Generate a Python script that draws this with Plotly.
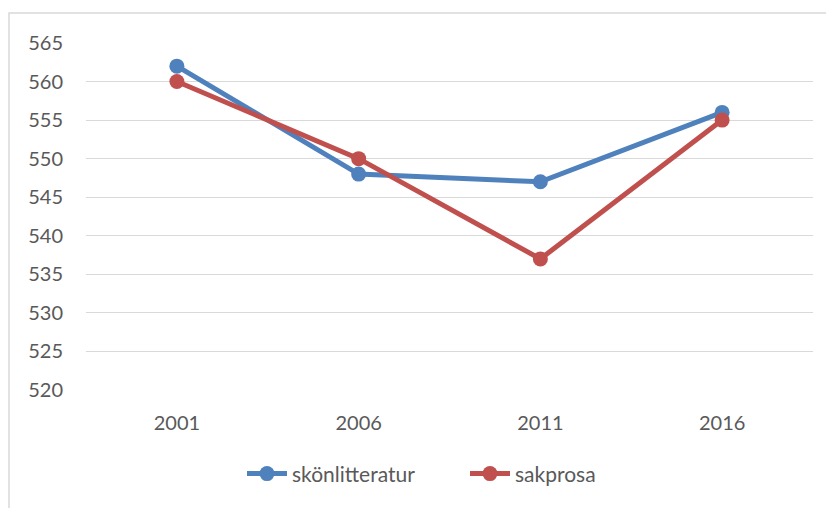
import plotly.graph_objects as go

years = ["2001", "2006", "2011", "2016"]
skonlitteratur = [562, 548, 547, 556]
sakprosa = [560, 550, 537, 555]
y_ticks = [520, 525, 530, 535, 540, 545, 550, 555, 560, 565]

FONT = "Lato"
TXT = "#595959"

fig = go.Figure()
fig.add_trace(go.Scatter(x=years, y=skonlitteratur, name="skönlitteratur",
                         mode="lines+markers",
                         line=dict(color="#4F81BD", width=5),
                         marker=dict(size=15, color="#4F81BD")))
fig.add_trace(go.Scatter(x=years, y=sakprosa, name="sakprosa",
                         mode="lines+markers",
                         line=dict(color="#C0504D", width=5),
                         marker=dict(size=15, color="#C0504D")))

# page has an 8px body margin
W, H = 826, 500
L, R, T, B = 78, 21, 35, 118
pw = W - L - R
ph = H - T - B

fig.update_layout(
    width=W, height=H,
    margin=dict(l=L, r=R, t=T, b=B),
    paper_bgcolor="white", plot_bgcolor="white",
    font=dict(family=FONT, size=20, color=TXT),
    showlegend=True,
    legend=dict(orientation="h", x=(234 - L) / pw, xanchor="left", y=-0.242, yanchor="middle",
                font=dict(size=21, color=TXT), itemwidth=40, entrywidth=168,
                bgcolor="rgba(0,0,0,0)"),
    xaxis=dict(type="category", range=[-0.5, 3.5], showgrid=False, showline=False,
               zeroline=False, ticks="", ticklabelstandoff=19,
               tickfont=dict(size=20, color=TXT)),
    yaxis=dict(range=[520, 565], tickvals=y_ticks, showgrid=True, gridcolor="#D9D9D9",
               gridwidth=1.3, zeroline=False, showline=False, ticks="",
               ticklabelstandoff=22, tickfont=dict(size=20, color=TXT)),
    shapes=[dict(type="rect", xref="paper", yref="paper",
                 x0=(1 - L) / pw, x1=1.5, y0=-1.0, y1=(ph + T - 5) / ph,
                 line=dict(color="#D9D9D9", width=1.5), fillcolor="rgba(0,0,0,0)",
                 layer="below")],
)

fig.write_html("out.html")
